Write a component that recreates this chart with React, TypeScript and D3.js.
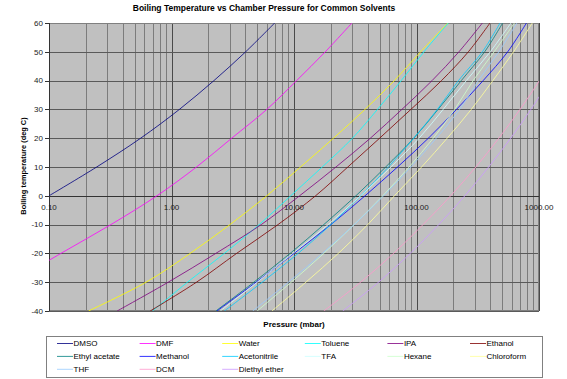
import React, { useEffect, useRef } from "react";
import * as d3 from "d3";

// Temperatures (deg C) at which pressures (mbar) are read
const temps = [-40, -30, -20, -10, 0, 10, 20, 30, 40, 50, 60];

const dmso = [null, null, null, null, 0.1, 0.245, 0.56, 1.16, 2.22, 4.03, 6.95];
const dmf = [null, 0.05, 0.125, 0.32, 0.76, 1.6, 3.1, 6.0, 10.5, 18, 29.7];
const water = [0.21, 0.62, 1.42, 3.0, 6.0, 11.3, 21, 38, 66, 108, 180];
const toluene = [0.7, 1.35, 2.7, 5.2, 9.4, 17, 30, 48, 75, 115, 182];
const ipa = [0.36, 0.94, 2.3, 5.4, 11.1, 22, 42, 76, 134, 222, 345];
const ethanol = [0.67, 1.6, 3.4, 7.4, 15, 27.5, 50, 90, 160, 265, 398];
const ethylAcetate = [2.3, 4.7, 9.3, 17.5, 32, 56, 95, 150, 232, 360, 505];
const methanol = [2.35, 4.9, 10, 20, 38, 70, 125, 212, 350, 555, 790];
const acetonitrile = [2.7, 5.5, 10.8, 20, 35, 59, 95, 148, 220, 345, 481];
const tfa = [2.5, 5.0, 9.8, 19, 35, 62, 105, 165, 255, 400, 590];
const hexane = [5.0, 9.5, 17.5, 31, 53, 87, 137, 205, 290, 430, 630];
const chloroform = [6.6, 12.5, 23, 40, 66, 110, 178, 280, 420, 620, 882];
const thf = [4.6, 9.0, 17, 31, 54, 90, 145, 225, 320, 470, 660];
const dcm = [17.5, 35, 65, 113, 190, 305, 470, 700, 1010, 1440, null];
const ether = [25, 49, 89, 152, 248, 388, 587, 859, 1220, null, null];

const seriesNames = [
  "DMSO", "DMF", "Water", "Toluene", "IPA", "Ethanol",
  "Ethyl acetate", "Methanol", "Acetonitrile", "TFA", "Hexane", "Chloroform",
  "THF", "DCM", "Diethyl ether",
];
const seriesValues = [
  dmso, dmf, water, toluene, ipa, ethanol,
  ethylAcetate, methanol, acetonitrile, tfa, hexane, chloroform,
  thf, dcm, ether,
];
const seriesColors = [
  "#000080", "#FF00FF", "#FFFF00", "#00FFFF", "#800080", "#800000",
  "#008080", "#0000FF", "#00CCFF", "#CCFFFF", "#CCFFCC", "#FFFF99",
  "#99CCFF", "#FF99CC", "#CC99FF",
];

const xTickValues = [0.1, 1, 10, 100, 1000];
const xTickLabels = ["0.10", "1.00", "10.00", "100.00", "1000.00"];
const yTickValues = [60, 50, 40, 30, 20, 10, 0, -10, -20, -30, -40];

const FONT = "'Liberation Sans', Arial, Helvetica, sans-serif";

export default function App() {
  const ref = useRef<SVGSVGElement>(null);

  useEffect(() => {
    const svg = d3.select(ref.current);
    svg.selectAll("*").remove();

    const L = 49, R = 539, T = 23, B = 311;
    const x = d3.scaleLog().domain([0.1, 1000]).range([L, R]);
    const y = d3.scaleLinear().domain([-40, 60]).range([B, T]);

    svg.append("rect").attr("width", 567).attr("height", 379).attr("fill", "#fff");

    svg.append("text")
      .attr("x", 264).attr("y", 10.5)
      .attr("text-anchor", "middle")
      .attr("font-family", FONT).attr("font-size", 8.5).attr("font-weight", "bold")
      .attr("fill", "#000")
      .text("Boiling Temperature vs Chamber Pressure for Common Solvents");

    svg.append("rect")
      .attr("x", L).attr("y", T).attr("width", R - L).attr("height", B - T)
      .attr("fill", "#C0C0C0");

    const grid = svg.append("g").attr("shape-rendering", "crispEdges");
    x.ticks().forEach((v) => {
      const lg = Math.log10(v);
      const major = Math.abs(lg - Math.round(lg)) < 1e-6;
      const px = Math.round(x(v)) + 0.5;
      grid.append("line")
        .attr("x1", px).attr("x2", px).attr("y1", T).attr("y2", B)
        .attr("stroke", major ? "#4a4a4a" : "#7c7c7c").attr("stroke-width", 1);
    });
    yTickValues.forEach((v) => {
      const py = Math.round(y(v)) + 0.5;
      grid.append("line")
        .attr("x1", L).attr("x2", R).attr("y1", py).attr("y2", py)
        .attr("stroke", "#5a5a5a").attr("stroke-width", 1);
    });
    grid.append("rect")
      .attr("x", L + 0.5).attr("y", T + 0.5).attr("width", R - L - 1).attr("height", B - T - 1)
      .attr("fill", "none").attr("stroke", "#808080");

    grid.append("line")
      .attr("x1", L + 0.5).attr("x2", L + 0.5).attr("y1", T).attr("y2", B)
      .attr("stroke", "#333");
    yTickValues.forEach((v) => {
      const py = Math.round(y(v)) + 0.5;
      grid.append("line")
        .attr("x1", L - 4).attr("x2", L).attr("y1", py).attr("y2", py)
        .attr("stroke", "#333");
    });
    const y0 = Math.round(y(0)) + 0.5;
    grid.append("line")
      .attr("x1", L).attr("x2", R).attr("y1", y0).attr("y2", y0)
      .attr("stroke", "#333");

    const defs = svg.append("defs");
    defs.append("clipPath").attr("id", "plotclip")
      .append("rect").attr("x", L).attr("y", T).attr("width", R - L).attr("height", B - T);

    const line = d3.line<[number, number | null]>()
      .defined((d) => d[1] != null)
      .x((d) => x(d[1] as number))
      .y((d) => y(d[0]))
      .curve(d3.curveCatmullRom.alpha(0.5));

    const gLines = svg.append("g").attr("clip-path", "url(#plotclip)");
    seriesValues.forEach((vals, i) => {
      const pts = temps.map((t, j) => [t, vals[j]] as [number, number | null]);
      gLines.append("path")
        .attr("d", line(pts) || "")
        .attr("fill", "none")
        .attr("stroke", seriesColors[i])
        .attr("stroke-opacity", 0.8)
        .attr("stroke-width", 1);
    });

    yTickValues.forEach((v) => {
      svg.append("text")
        .attr("x", 43).attr("y", y(v)).attr("dy", "0.35em")
        .attr("text-anchor", "end")
        .attr("font-family", FONT).attr("font-size", 8).attr("fill", "#222")
        .text(String(v));
    });
    xTickValues.forEach((v, i) => {
      svg.append("text")
        .attr("x", x(v)).attr("y", 207.5).attr("dy", "0.35em")
        .attr("text-anchor", "middle")
        .attr("font-family", FONT).attr("font-size", 8).attr("fill", "#222")
        .text(xTickLabels[i]);
    });

    svg.append("text")
      .attr("x", 294).attr("y", 324.5).attr("dy", "0.35em")
      .attr("text-anchor", "middle")
      .attr("font-family", FONT).attr("font-size", 8).attr("font-weight", "bold")
      .text("Pressure (mbar)");
    svg.append("text")
      .attr("transform", "translate(23,166) rotate(-90)")
      .attr("dy", "0.35em")
      .attr("text-anchor", "middle")
      .attr("font-family", FONT).attr("font-size", 7.4).attr("font-weight", "bold")
      .text("Boiling temperature (deg C)");

    svg.append("rect")
      .attr("x", 46.5).attr("y", 336.5).attr("width", 496).attr("height", 41)
      .attr("fill", "#fff").attr("stroke", "#808080").attr("shape-rendering", "crispEdges");
    seriesNames.forEach((name, i) => {
      const col = i % 6, row = Math.floor(i / 6);
      const lx = 57 + col * 82.6;
      const ly = 343.5 + row * 12.9;
      svg.append("line")
        .attr("x1", lx).attr("x2", lx + 16).attr("y1", ly).attr("y2", ly)
        .attr("stroke", seriesColors[i]).attr("stroke-opacity", 0.8).attr("stroke-width", 1);
      svg.append("text")
        .attr("x", lx + 16.5).attr("y", ly).attr("dy", "0.35em")
        .attr("font-family", FONT).attr("font-size", 8).attr("fill", "#000")
        .text(name);
    });
  }, []);

  return (
    <svg
      ref={ref}
      width={567}
      height={379}
      style={{ position: "absolute", left: 0, top: 0, display: "block" }}
    />
  );
}
